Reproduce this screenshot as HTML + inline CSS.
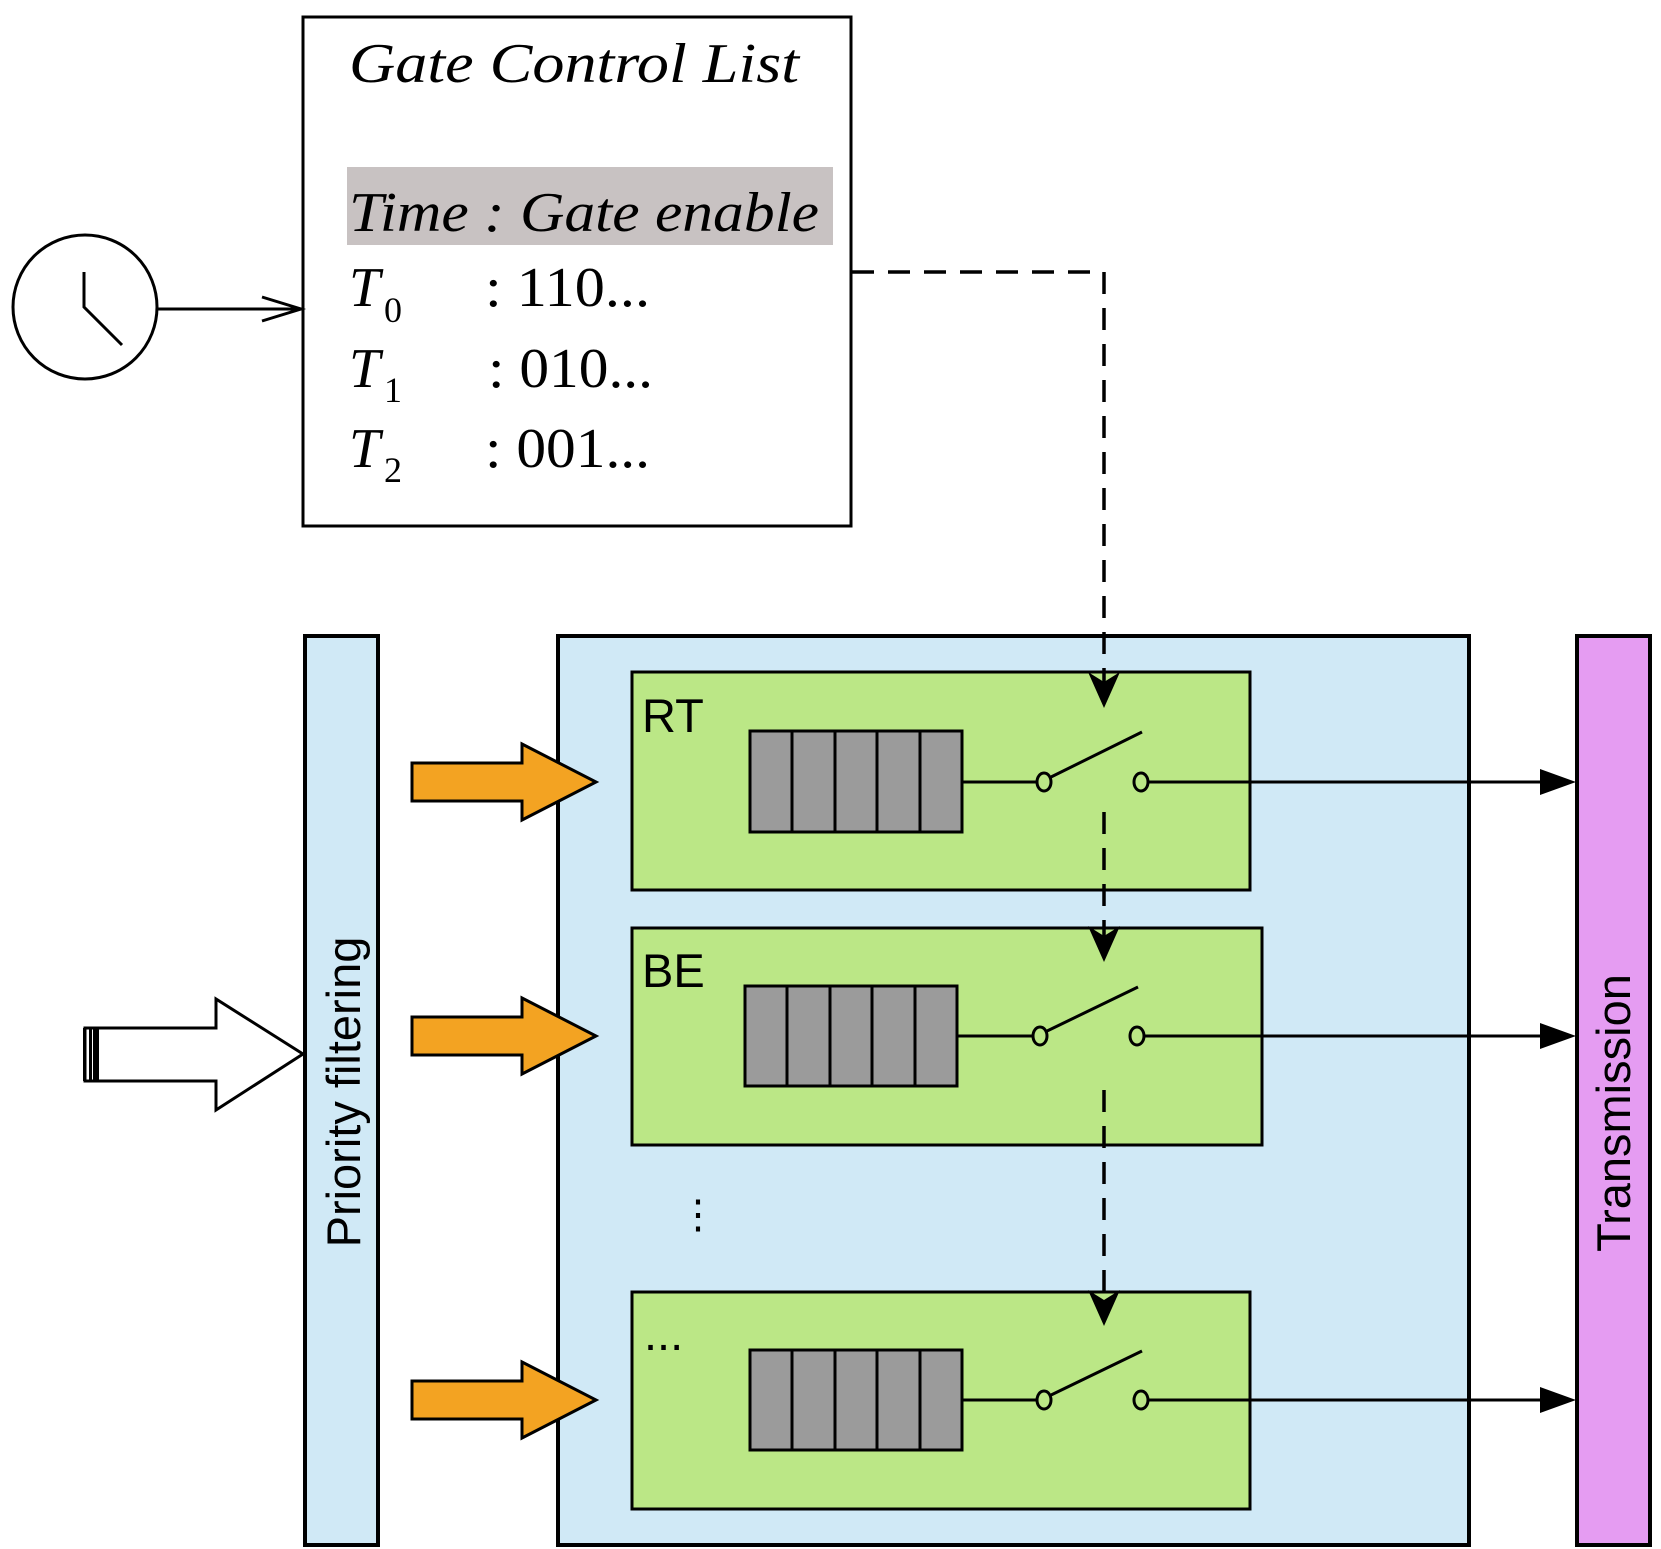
<!DOCTYPE html>
<html><head><meta charset="utf-8"><style>body{margin:0;background:#fff}svg{display:block}</style></head><body>
<svg width="1661" height="1549" viewBox="0 0 1661 1549" xmlns="http://www.w3.org/2000/svg">
<!-- GCL box -->
<rect x="303" y="17" width="548" height="509" fill="#fff" stroke="#000" stroke-width="3"/>
<rect x="347" y="167" width="486" height="78" fill="#c8c2c2"/>
<g font-family="Liberation Serif, serif" font-style="italic" font-size="56" fill="#000">
<text x="349" y="82" textLength="450" lengthAdjust="spacingAndGlyphs">Gate Control  List</text>
<text x="349" y="231" textLength="470" lengthAdjust="spacingAndGlyphs">Time :  Gate enable</text>
<text x="349" y="306">T</text><text x="349" y="387">T</text><text x="349" y="467">T</text>
</g>
<g font-family="Liberation Serif, serif" font-size="36" fill="#000">
<text x="384" y="322">0</text><text x="384" y="402">1</text><text x="384" y="482">2</text>
</g>
<g font-family="Liberation Serif, serif" font-size="56" fill="#000">
<text x="485" y="306" textLength="165" lengthAdjust="spacingAndGlyphs">: 110...</text><text x="488" y="387" textLength="165" lengthAdjust="spacingAndGlyphs">: 010...</text><text x="485" y="467" textLength="165" lengthAdjust="spacingAndGlyphs">: 001...</text>
</g>
<!-- clock -->
<circle cx="85" cy="307" r="72" fill="#fff" stroke="#000" stroke-width="3"/>
<path d="M84,272 L84,307 L122,345" fill="none" stroke="#000" stroke-width="3"/>
<line x1="157" y1="309" x2="301" y2="309" stroke="#000" stroke-width="3"/>
<path d="M262,297 L301,309 L262,321" fill="none" stroke="#000" stroke-width="3"/>
<!-- priority -->
<rect x="305" y="636" width="73" height="909" fill="#d0e9f6" stroke="#000" stroke-width="4"/>
<text transform="translate(360,1092) rotate(-90)" text-anchor="middle" font-family="Liberation Sans, sans-serif" font-size="47">Priority filtering</text>
<!-- container -->
<rect x="558" y="636" width="911" height="909" fill="#d0e9f6" stroke="#000" stroke-width="4"/>
<!-- transmission -->
<rect x="1577" y="636" width="73" height="909" fill="#e59cf2" stroke="#000" stroke-width="4"/>
<text transform="translate(1630,1113) rotate(-90)" text-anchor="middle" font-family="Liberation Sans, sans-serif" font-size="47">Transmission</text>
<!-- big white arrow -->
<path d="M85,1028 H216 V999 L303,1054 L216,1110 V1081 H85 Z" fill="#fff" stroke="#000" stroke-width="3"/>
<rect x="83" y="1028" width="3" height="53" fill="#000"/><rect x="89" y="1028" width="3" height="53" fill="#000"/><rect x="93" y="1028" width="6" height="53" fill="#000"/>
<!-- rows -->
<g stroke="#000" stroke-width="3">
<rect x="632" y="672" width="618" height="218" fill="#bbe786"/>
<rect x="632" y="928" width="630" height="217" fill="#bbe786"/>
<rect x="632" y="1292" width="618" height="217" fill="#bbe786"/>
</g>
<g font-family="Liberation Sans, sans-serif" font-size="47" fill="#000">
<text x="642" y="732">RT</text><text x="642" y="987">BE</text><text x="644" y="1350">...</text>
<text x="678" y="1228" font-size="40">⋮</text>
</g>
<!-- orange arrows -->
<g fill="#f3a322" stroke="#000" stroke-width="3">
<path d="M412,763 H522 V744 L596,782 L522,820 V801 H412 Z"/>
<path d="M412,1017 H522 V998 L596,1036 L522,1074 V1055 H412 Z"/>
<path d="M412,1381 H522 V1362 L596,1400 L522,1438 V1419 H412 Z"/>
</g>
<!-- dashed control -->
<path d="M852,272 H1104 V690" fill="none" stroke="#000" stroke-width="3.5" stroke-dasharray="22,14"/>
<path d="M1104,812 V945 M1104,1090 V1310" fill="none" stroke="#000" stroke-width="3.5" stroke-dasharray="22,14"/>
<!-- queues & switches -->
<g stroke="#000" stroke-width="3">
<g fill="#9b9b9b">
<rect x="750" y="731" width="212" height="101"/><line x1="792" y1="731" x2="792" y2="832"/><line x1="835" y1="731" x2="835" y2="832"/><line x1="877" y1="731" x2="877" y2="832"/><line x1="920" y1="731" x2="920" y2="832"/>
<rect x="745" y="986" width="212" height="100"/><line x1="787" y1="986" x2="787" y2="1086"/><line x1="830" y1="986" x2="830" y2="1086"/><line x1="872" y1="986" x2="872" y2="1086"/><line x1="915" y1="986" x2="915" y2="1086"/>
<rect x="750" y="1350" width="212" height="100"/><line x1="792" y1="1350" x2="792" y2="1450"/><line x1="835" y1="1350" x2="835" y2="1450"/><line x1="877" y1="1350" x2="877" y2="1450"/><line x1="920" y1="1350" x2="920" y2="1450"/>
</g>
<line x1="962" y1="782" x2="1036" y2="782"/><line x1="1049" y1="778" x2="1142" y2="732"/><line x1="1149" y1="782" x2="1546" y2="782"/>
<line x1="957" y1="1036" x2="1032" y2="1036"/><line x1="1045" y1="1032" x2="1138" y2="987"/><line x1="1145" y1="1036" x2="1546" y2="1036"/>
<line x1="962" y1="1400" x2="1036" y2="1400"/><line x1="1049" y1="1396" x2="1142" y2="1351"/><line x1="1149" y1="1400" x2="1546" y2="1400"/>
<g fill="#bbe786">
<ellipse cx="1044" cy="782" rx="7" ry="9"/><ellipse cx="1141" cy="782" rx="7" ry="9"/>
<ellipse cx="1040" cy="1036" rx="7" ry="9"/><ellipse cx="1137" cy="1036" rx="7" ry="9"/>
<ellipse cx="1044" cy="1400" rx="7" ry="9"/><ellipse cx="1141" cy="1400" rx="7" ry="9"/>
</g>
</g>
<!-- arrowheads -->
<g fill="#000">
<path d="M1540,769 L1576,782 L1540,795 Z"/>
<path d="M1540,1023 L1576,1036 L1540,1049 Z"/>
<path d="M1540,1387 L1576,1400 L1540,1413 Z"/>
<path d="M1088,672 L1104,708 L1120,672 L1104,682 Z"/>
<path d="M1088,926 L1104,962 L1120,926 L1104,936 Z"/>
<path d="M1088,1290 L1104,1326 L1120,1290 L1104,1300 Z"/>
</g>
</svg>
</body></html>
